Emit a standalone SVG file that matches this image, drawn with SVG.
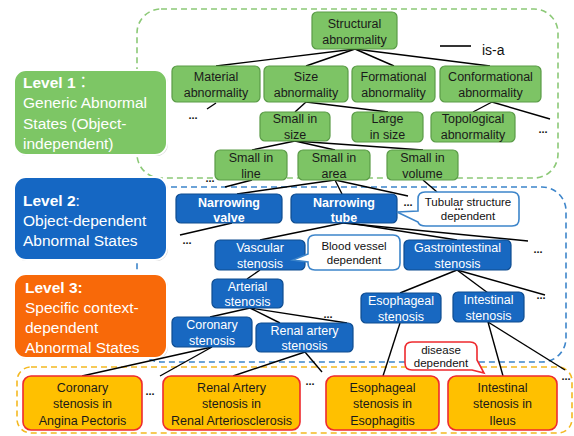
<svg xmlns="http://www.w3.org/2000/svg" width="574" height="436" viewBox="0 0 574 436">
<style>
text{font-family:"Liberation Sans",Arial,sans-serif;text-anchor:middle}
.g{fill:#7DC465;stroke:#5A9B47;stroke-width:1.2}
.b{fill:#1868C1;stroke:#0E4C90;stroke-width:1.2}
.y{fill:#FFC000;stroke:#EE2A2E;stroke-width:1.6}
.gt{font-size:12.5px;fill:#1a1a1a}
.bt{font-size:12.5px;fill:#fff}
.bb{font-size:12.5px;fill:#fff;font-weight:bold}
.yt{font-size:12.5px;fill:#1a1a1a}
.ct{font-size:11.5px;fill:#111}
.lv{fill:none;stroke:#fff;stroke-width:2}
.lt{font-size:15.5px;fill:#fff;text-anchor:start}
.dots{font-size:11px;font-weight:bold;fill:#111}
.reg{fill:none;stroke-width:1.6;stroke-dasharray:6 4}
#connectors line{stroke:#000;stroke-width:1.4}
</style>

<g id="regions">
<rect class="reg" x="137" y="9" width="421" height="169" rx="24" stroke="#8CC977"/>
<rect class="reg" x="137" y="187" width="429" height="175" rx="24" stroke="#3D85CA"/>
<rect class="reg" x="17" y="367" width="555" height="66" rx="14" stroke="#F4B922"/>
</g>

<g id="level1">
<rect x="15" y="71" width="153" height="85" rx="12" fill="#c8c8c8"/>
<rect x="14" y="70" width="153" height="85" rx="12" fill="#7DC665" stroke="#fff" stroke-width="2"/>
<text class="lt" x="23" y="88"><tspan font-weight="bold">Level 1</tspan><tspan font-family="'Noto Sans CJK JP',sans-serif">：</tspan></text>
<text class="lt" x="23" y="108">Generic Abnormal</text>
<text class="lt" x="23" y="129">States (Object-</text>
<text class="lt" x="23" y="149">independent)</text>
</g>
<g id="level2">
<rect x="15" y="178" width="153" height="83" rx="12" fill="#c8c8c8"/>
<rect x="14" y="177" width="153" height="83" rx="12" fill="#1567C3" stroke="#fff" stroke-width="2"/>
<text class="lt" x="23" y="206"><tspan font-weight="bold">Level 2</tspan>:</text>
<text class="lt" x="23" y="226">Object-dependent</text>
<text class="lt" x="23" y="246">Abnormal States</text>
</g>
<g id="level3">
<rect x="15" y="275" width="153" height="84" rx="12" fill="#c8c8c8"/>
<rect x="14" y="274" width="153" height="84" rx="12" fill="#F86909" stroke="#fff" stroke-width="2"/>
<text class="lt" x="25" y="293" font-weight="bold">Level 3:</text>
<text class="lt" x="25" y="313">Specific context-</text>
<text class="lt" x="25" y="333">dependent</text>
<text class="lt" x="25" y="353">Abnormal States</text>
</g>

<g id="connectors">
<line x1="355" y1="49" x2="216" y2="66"/>
<line x1="355" y1="49" x2="306" y2="66"/>
<line x1="355" y1="49" x2="394" y2="66"/>
<line x1="355" y1="49" x2="490" y2="66"/>
<line x1="216" y1="103" x2="207" y2="109"/>
<line x1="306" y1="102" x2="295" y2="112"/>
<line x1="306" y1="102" x2="388" y2="112"/>
<line x1="492" y1="102" x2="473" y2="112"/>
<line x1="492" y1="102" x2="550" y2="119"/>
<line x1="295" y1="141" x2="252" y2="150"/>
<line x1="295" y1="141" x2="335" y2="150"/>
<line x1="295" y1="141" x2="423" y2="150"/>
<line x1="252" y1="180" x2="225" y2="187"/>
<line x1="335" y1="180" x2="237" y2="194"/>
<line x1="335" y1="180" x2="342" y2="194"/>
<line x1="335" y1="180" x2="408" y2="196"/>
<line x1="423" y1="180" x2="437" y2="192"/>
<line x1="232" y1="223" x2="180" y2="235"/>
<line x1="343" y1="223" x2="260" y2="240"/>
<line x1="343" y1="222" x2="457" y2="240"/>
<line x1="343" y1="223" x2="528" y2="241"/>
<line x1="260" y1="270" x2="247" y2="279"/>
<line x1="250" y1="308" x2="210" y2="317"/>
<line x1="250" y1="308" x2="280" y2="323"/>
<line x1="250" y1="308" x2="347" y2="323"/>
<line x1="457" y1="270" x2="400" y2="293"/>
<line x1="457" y1="270" x2="488" y2="293"/>
<line x1="457" y1="270" x2="545" y2="295"/>
<line x1="212" y1="347" x2="82" y2="376"/>
<line x1="212" y1="347" x2="160" y2="376"/>
<line x1="305" y1="352" x2="233" y2="376"/>
<line x1="305" y1="352" x2="322" y2="372"/>
<line x1="400" y1="323" x2="383" y2="376"/>
<line x1="488" y1="322" x2="503" y2="376"/>
<line x1="488" y1="322" x2="565" y2="370"/>
</g>

<g id="legend">
<line x1="440" y1="46" x2="471" y2="46" stroke="#000" stroke-width="1.6"/>
<text x="482" y="55" font-size="14" style="text-anchor:start" fill="#111">is-a</text>
</g>

<g id="structural"><rect class="g" x="312" y="12" width="85" height="37" rx="5"/><text class="gt" x="354.5" y="27.5">Structural</text><text class="gt" x="354.5" y="43.5">abnormality</text></g>
<g id="material"><rect class="g" x="172" y="66" width="88" height="36" rx="5"/><text class="gt" x="216" y="80.5">Material</text><text class="gt" x="216" y="96.5">abnormality</text></g>
<g id="size"><rect class="g" x="264" y="66" width="84" height="36" rx="5"/><text class="gt" x="306" y="80.5">Size</text><text class="gt" x="306" y="96.5">abnormality</text></g>
<g id="formational"><rect class="g" x="352" y="66" width="83" height="36" rx="5"/><text class="gt" x="393.5" y="80.5">Formational</text><text class="gt" x="393.5" y="96.5">abnormality</text></g>
<g id="conformational"><rect class="g" x="440" y="66" width="101" height="36" rx="5"/><text class="gt" x="490.5" y="80.5">Conformational</text><text class="gt" x="490.5" y="96.5">abnormality</text></g>
<g id="smallinsize"><rect class="g" x="260" y="112" width="70" height="29" rx="5"/><text class="gt" x="295" y="123">Small in</text><text class="gt" x="295" y="139">size</text></g>
<g id="largeinsize"><rect class="g" x="352" y="112" width="71" height="30" rx="5"/><text class="gt" x="387.5" y="123">Large</text><text class="gt" x="387.5" y="139">in size</text></g>
<g id="topological"><rect class="g" x="431" y="112" width="84" height="30" rx="5"/><text class="gt" x="473" y="123">Topological</text><text class="gt" x="473" y="139">abnormality</text></g>
<g id="smallinline"><rect class="g" x="215" y="150" width="72" height="30" rx="5"/><text class="gt" x="251" y="161.5">Small in</text><text class="gt" x="251" y="177.5">line</text></g>
<g id="smallinarea"><rect class="g" x="298" y="150" width="72" height="30" rx="5"/><text class="gt" x="334" y="161.5">Small in</text><text class="gt" x="334" y="177.5">area</text></g>
<g id="smallinvolume"><rect class="g" x="387" y="150" width="71" height="30" rx="5"/><text class="gt" x="422.5" y="161.5">Small in</text><text class="gt" x="422.5" y="177.5">volume</text></g>

<g id="narrowingvalve"><rect class="b" x="176" y="194" width="106" height="29" rx="5"/><text class="bb" x="229" y="206.5">Narrowing</text><text class="bb" x="229" y="221.5">valve</text></g>
<g id="narrowingtube"><rect class="b" x="291" y="194" width="106" height="29" rx="5"/><text class="bb" x="344" y="206.5">Narrowing</text><text class="bb" x="344" y="221.5">tube</text></g>
<g id="tubularcallout"><path d="M425 192 H512 Q519 192 519 199 V219 Q519 226 512 226 H426 Q419 226 418 222 L397 212 L418 211 V199 Q418 192 425 192 Z" fill="#fff" stroke="#3D85CA" stroke-width="1.6"/><text class="ct" x="468" y="206">Tubular structure</text><text class="ct" x="468" y="220">dependent</text></g>
<g id="vascular"><rect class="b" x="215" y="240" width="90" height="30" rx="5"/><text class="bt" x="260" y="251.5">Vascular</text><text class="bt" x="260" y="267.5">stenosis</text></g>
<g id="bloodcallout"><path d="M315 235 H393 Q400 235 400 242 V263 Q400 270 393 270 H315 Q308 270 308 263 V262 L293 260 L308 254 V242 Q308 235 315 235 Z" fill="#fff" stroke="#3D85CA" stroke-width="1.6"/><text class="ct" x="354" y="250">Blood vessel</text><text class="ct" x="354" y="264">dependent</text></g>
<g id="gastro"><rect class="b" x="404" y="240" width="107" height="30" rx="5"/><text class="bt" x="457.5" y="251.5">Gastrointestinal</text><text class="bt" x="457.5" y="267.5">stenosis</text></g>
<g id="arterial"><rect class="b" x="212" y="279" width="71" height="29" rx="5"/><text class="bt" x="247.5" y="290.5">Arterial</text><text class="bt" x="247.5" y="306">stenosis</text></g>
<g id="coronary"><rect class="b" x="172" y="317" width="80" height="30" rx="5"/><text class="bt" x="212" y="328.5">Coronary</text><text class="bt" x="212" y="344.5">stenosis</text></g>
<g id="renalartery"><rect class="b" x="256" y="323" width="97" height="29" rx="5"/><text class="bt" x="304.5" y="334.5">Renal artery</text><text class="bt" x="304.5" y="350">stenosis</text></g>
<g id="esophageal"><rect class="b" x="361" y="293" width="80" height="30" rx="5"/><text class="bt" x="401" y="304.5">Esophageal</text><text class="bt" x="401" y="320.5">stenosis</text></g>
<g id="intestinal"><rect class="b" x="453" y="292" width="71" height="30" rx="5"/><text class="bt" x="488.5" y="303.5">Intestinal</text><text class="bt" x="488.5" y="319.5">stenosis</text></g>

<g id="diseasecallout"><path d="M412 342 H470 Q477 342 477 349 V360 L484 373 L472 370 H412 Q405 370 405 363 V349 Q405 342 412 342 Z" fill="#fff" stroke="#EE2A2E" stroke-width="1.6"/><text class="ct" x="441" y="354">disease</text><text class="ct" x="441" y="367">dependent</text></g>

<g id="coronaryangina"><rect class="y" x="23" y="376" width="119" height="54" rx="8"/><text class="yt" x="82.5" y="391.5">Coronary</text><text class="yt" x="82.5" y="408">stenosis in</text><text class="yt" x="82.5" y="424.5">Angina Pectoris</text></g>
<g id="renalarterio"><rect class="y" x="163" y="376" width="137" height="54" rx="8"/><text class="yt" x="231.5" y="391.5">Renal  Artery</text><text class="yt" x="231.5" y="408">stenosis in</text><text class="yt" x="231.5" y="424.5">Renal Arteriosclerosis</text></g>
<g id="esophagitis"><rect class="y" x="326" y="376" width="113" height="54" rx="8"/><text class="yt" x="382.5" y="391.5">Esophageal</text><text class="yt" x="382.5" y="408">stenosis in</text><text class="yt" x="382.5" y="424.5">Esophagitis</text></g>
<g id="ileus"><rect class="y" x="448" y="376" width="109" height="54" rx="8"/><text class="yt" x="502.5" y="391.5">Intestinal</text><text class="yt" x="502.5" y="408">stenosis in</text><text class="yt" x="502.5" y="424.5">Ileus</text></g>

<g id="ellipses">
<text class="dots" x="193" y="119">...</text>
<text class="dots" x="543" y="133">...</text>
<text class="dots" x="210" y="182">...</text>
<text class="dots" x="408" y="206">...</text>
<text class="dots" x="459" y="210">...</text>
<text class="dots" x="187" y="244">...</text>
<text class="dots" x="538" y="253">...</text>
<text class="dots" x="328" y="318">...</text>
<text class="dots" x="541" y="299">...</text>
<text class="dots" x="150" y="395">...</text>
<text class="dots" x="310" y="385">...</text>
<text class="dots" x="566" y="380">...</text>
</g>
</svg>
